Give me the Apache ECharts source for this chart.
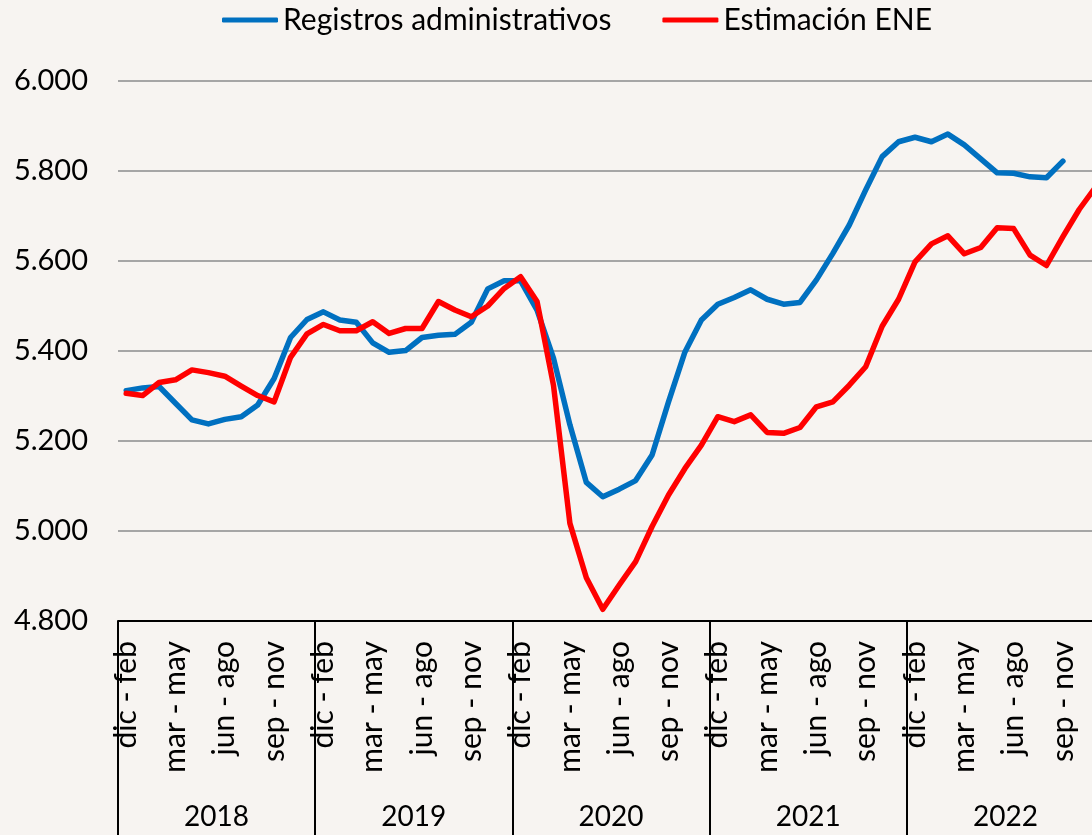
<!DOCTYPE html>
<html>
<head>
<meta charset="utf-8">
<script src="https://cdn.jsdelivr.net/npm/echarts@6/dist/echarts.min.js"></script>
<style>
  html, body { margin: 0; padding: 0; overflow: hidden; background: #F7F4F1; }
  #chart { width: 1105px; height: 835px; }
</style>
</head>
<body>
<div id="chart"></div>
<script>
// rolling quarters, one block of 12 per year
const quarters = ['dic - feb', 'ene - mar', 'feb - abr', 'mar - may', 'abr - jun', 'may - jul',
  'jun - ago', 'jul - sep', 'ago - oct', 'sep - nov', 'oct - dic', 'nov - ene'];
const years = ['2018', '2019', '2020', '2021', '2022'];

const registros = [
  5312, 5318, 5321, 5284, 5247, 5238, 5248, 5254, 5280, 5339, 5430, 5470,
  5487, 5469, 5464, 5418, 5397, 5401, 5430, 5435, 5437, 5464, 5538, 5556,
  5556, 5491, 5384, 5236, 5108, 5076, 5093, 5112, 5169, 5287, 5398, 5469,
  5504, 5519, 5536, 5515, 5504, 5508, 5558, 5617, 5680, 5758, 5832, 5865,
  5875, 5865, 5882, 5858, 5827, 5796, 5795, 5787, 5785, 5822
];
const estimacionENE = [
  5306, 5301, 5330, 5336, 5358, 5352, 5344, 5322, 5301, 5287, 5386, 5438,
  5459, 5445, 5445, 5465, 5439, 5450, 5450, 5510, 5491, 5476, 5500, 5539,
  5565, 5510, 5324, 5017, 4896, 4826, 4880, 4932, 5010, 5080, 5139, 5191,
  5254, 5243, 5258, 5219, 5217, 5230, 5276, 5287, 5324, 5365, 5455, 5515,
  5598, 5638, 5656, 5616, 5630, 5674, 5672, 5613, 5590, 5654, 5715, 5765
];

const categories = [];
years.forEach(() => quarters.forEach(q => categories.push(q)));

const font = 'Lato';
const chart = echarts.init(document.getElementById('chart'), null, { renderer: 'canvas' });

chart.setOption({
  backgroundColor: '#F7F4F1',
  animation: false,
  textStyle: { fontFamily: font },
  legend: {
    left: 217,
    top: 0,
    itemGap: 51,
    itemWidth: 56,
    itemHeight: 5,
    icon: 'roundRect',
    textStyle: { fontSize: 30, color: '#000', fontFamily: font },
    data: ['Registros administrativos', 'Estimación ENE']
  },
  grid: { left: 118, right: 1, top: 81, bottom: 214 },
  xAxis: [
    {
      type: 'category',
      data: categories,
      boundaryGap: true,
      axisLine: { lineStyle: { color: '#000', width: 2 } },
      axisTick: { show: true, interval: 11, length: 214, lineStyle: { color: '#000', width: 2 } },
      axisLabel: { interval: 2, rotate: 90, fontSize: 30, color: '#000', margin: 20, fontFamily: font },
      splitLine: { show: false }
    },
    {
      type: 'category',
      data: years,
      position: 'bottom',
      axisLine: { show: false },
      axisTick: { show: false },
      axisLabel: { fontSize: 28, color: '#000', margin: 182, fontFamily: font },
      splitLine: { show: false }
    }
  ],
  yAxis: {
    type: 'value',
    min: 4800,
    max: 6000,
    interval: 200,
    axisLine: { show: false },
    axisTick: { show: false },
    axisLabel: {
      fontSize: 29, color: '#000', margin: 30, fontFamily: font,
      formatter: v => String(v).replace(/\B(?=(\d{3})+(?!\d))/g, '.')
    },
    splitLine: { lineStyle: { color: '#A6A6A6', width: 2 } }
  },
  series: [
    {
      name: 'Registros administrativos',
      type: 'line',
      data: registros,
      showSymbol: false,
      symbol: 'none',
      color: '#0070C0',
      lineStyle: { width: 5.5, color: '#0070C0', join: 'round', cap: 'round' }
    },
    {
      name: 'Estimación ENE',
      type: 'line',
      data: estimacionENE,
      showSymbol: false,
      symbol: 'none',
      color: '#FF0000',
      lineStyle: { width: 5.5, color: '#FF0000', join: 'round', cap: 'round' }
    }
  ]
});
</script>
</body>
</html>
